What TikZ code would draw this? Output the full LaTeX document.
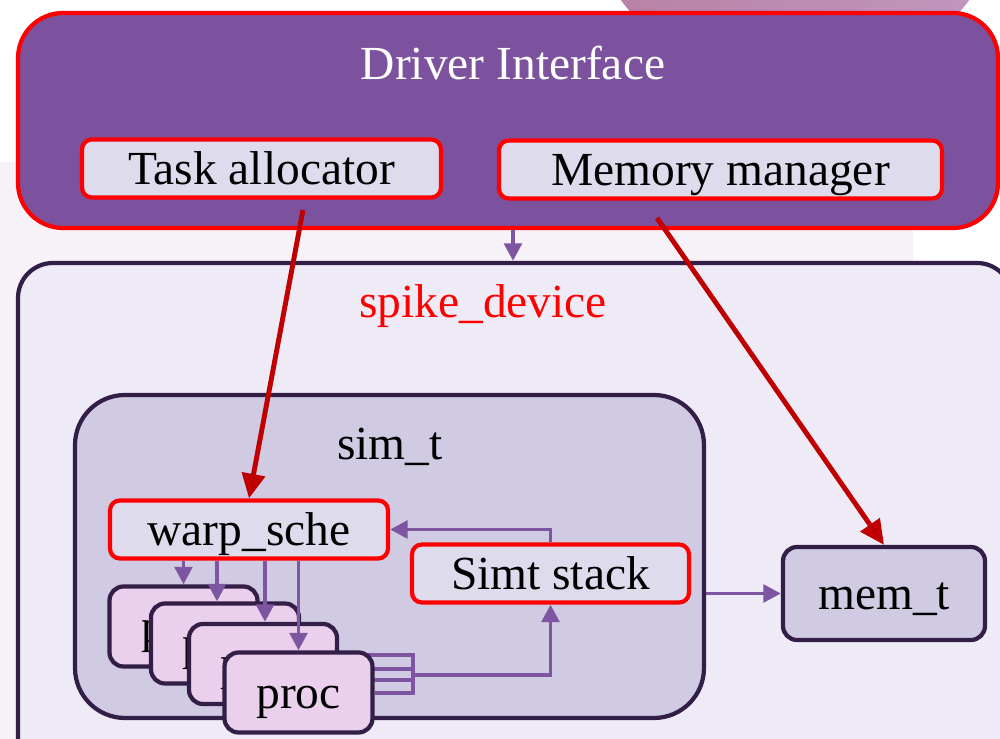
\documentclass[tikz,border=0pt]{standalone}
\usepackage{fontspec}
\setmainfont{Liberation Serif}
\usetikzlibrary{positioning,arrows.meta,calc}
\definecolor{drvpurple}{RGB}{124,82,158}
\definecolor{boxlav}{RGB}{222,220,236}
\definecolor{devlav}{RGB}{238,235,246}
\definecolor{simlav}{RGB}{208,202,226}
\definecolor{procpink}{RGB}{234,208,236}
\definecolor{darkline}{RGB}{50,30,70}
\definecolor{wirepurple}{RGB}{125,85,160}
\definecolor{darkred}{RGB}{192,0,0}
\definecolor{slidebg}{RGB}{246,242,247}
\definecolor{blobleft}{RGB}{184,128,164}
\definecolor{blobright}{RGB}{192,152,192}
\pgfdeclarelayer{back}
\pgfdeclarelayer{wires}
\pgfsetlayers{back,wires,main}

\tikzset{
  lbl/.style={font=\fontsize{13.5}{16}\selectfont, inner sep=0pt, text height=9pt, text depth=0pt},
  redbox/.style={lbl, draw=red, line width=1.2pt, fill=boxlav, rounded corners=2.8pt, minimum height=5.8mm},
  container/.style={draw=darkline, line width=1.2pt, inner sep=0pt},
  proc/.style={lbl, draw=darkline, line width=1.2pt, fill=procpink, rounded corners=4pt, minimum width=14.8mm, minimum height=8mm},
  wireline/.style={draw=wirepurple, line width=1.1pt},
  wire/.style={wireline, -{Triangle[length=5pt,width=5pt]}},
  bigarrow/.style={draw=darkred, line width=1.4pt, -{Triangle[length=7pt,width=6.5pt]}},
}

\begin{document}
\begin{tikzpicture}[x=0.1mm, y=-0.1mm]
    \useasboundingbox (0,0) rectangle (1000,739);

    \begin{pgfonlayer}{back}
    % slide background
    \fill[white] (0,0) rectangle (1000,739);
    \fill[slidebg] (0,162) rectangle (913,739);
    \shade[left color=blobleft, right color=blobright] (795,-131) circle [radius=21.8mm];

    % containers
    \node (drv) at (508,120.5) [container, draw=red, fill=drvpurple, rounded corners=4.5mm,
        minimum width=98mm, minimum height=21.5mm] {};
    \node (dev) at (515,521.5) [container, fill=devlav, rounded corners=3.5mm,
        minimum width=99.4mm, minimum height=51.7mm] {};
    \node (sim) at (389.5,556.5) [container, fill=simlav, rounded corners=5mm,
        minimum width=62.9mm, minimum height=32.3mm] {};
    \end{pgfonlayer}

    \node (drvlbl) at (513,64) [lbl, text=white] {Driver Interface};
    \node (devlbl) at (483,302) [lbl, text=red] {spike\_device};
    \node (simlbl) at (390,444) [lbl] {sim\_t};

    \node (task) at (261.5,168.5) [redbox, minimum width=35.9mm] {Task allocator};
    \node (memmgr) at (720.5,169.5) [redbox, minimum width=44.3mm] {Memory manager};
    \node (warp) at (249,529.5) [redbox, minimum width=27.8mm] {warp\_sche};
    \node (simt) at (550.5,573.5) [redbox, minimum width=27.7mm] {Simt stack};
    \node (mem) at (884,593.5) [lbl, draw=darkline, line width=1.2pt, fill=simlav,
        rounded corners=4pt, minimum width=20.2mm, minimum height=9.3mm] {mem\_t};

    % stacked processors
    \foreach \i/\x/\y in {1/183.5/626.5, 2/225/643.5, 3/263/664, 4/298.5/692.5}
        \node (p\i) at (\x,\y) [proc] {proc};

    % processors to simt stack
    \coordinate (join) at (413,675);
    \begin{pgfonlayer}{wires}
    \foreach \i/\dy in {1/2.85, 2/2.55, 3/1.6, 4/0.05}
        \draw[wireline] ([yshift=-\dy mm]p\i.east) -| (join);
    \end{pgfonlayer}
    \draw[wire] (join) -| (simt.south);

    \foreach \i/\dx in {1/0, 2/-0.8, 3/0.2, 4/0}
        \draw[wire] ([xshift=\dx mm]warp.south -| p\i.north) -- ([xshift=\dx mm]p\i.north);

    \draw[wire] (simt.north) |- (warp.east);
    \draw[wire] (mem.west -| sim.east) -- (mem.west);
    \draw[wire] (drv.south -| drvlbl) -- (dev.north -| drvlbl);

    \coordinate (taskout) at (303,210);
    \coordinate (memout) at (657,218);
    \draw[bigarrow] (taskout) -- (warp.north);
    \draw[bigarrow] (memout) -- (mem.north);
\end{tikzpicture}
\end{document}
